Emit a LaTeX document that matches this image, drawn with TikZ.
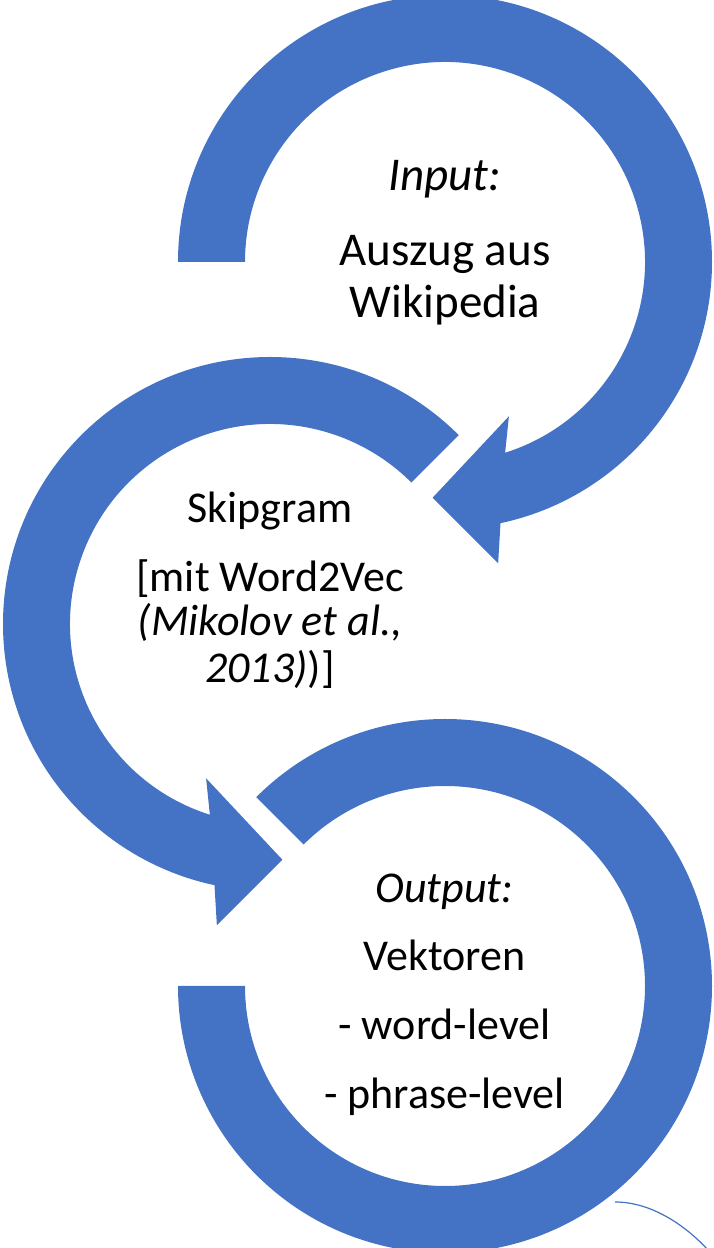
\documentclass[tikz,border=0pt]{standalone}
\usepackage{fontspec}
\setmainfont{Carlito}
\usepackage{xcolor}
\definecolor{smartblue}{HTML}{4472C4}

\begin{document}
\begin{tikzpicture}[
            x=1pt, y=1pt,
            band/.style={fill=smartblue, draw=none},
            big/.style={inner sep=0pt, anchor=base, font=\fontsize{47}{56}\selectfont},
            txt/.style={inner sep=0pt, anchor=base, font=\fontsize{44}{53}\selectfont}
        ]
            \useasboundingbox (0,0) rectangle (713,1248);
            \clip (0,0) rectangle (713,1248);

            \coordinate (cin)   at (445,986);
            \coordinate (cskip) at (270,624);
            \coordinate (cout)  at (445,262);

            % --- INPUT ---
            \fill[band, shift={(cin)}] (180:267) arc[start angle=180, end angle=-78, radius=267]
                -- (-80:306) -- (-93:236) -- (-67.5:167) -- (-72.5:200)
                arc[start angle=-72.5, end angle=180, radius=200] -- cycle;
            \node[big] (in1) at (445,1057.4) {\textit{Input:}};
            \node[big] (in2) at (445,982.5) {Auszug aus};
            \node[big] (in3) at (445,930.4) {Wikipedia};

            % --- SKIPGRAM ---
            \fill[band, shift={(cskip)}] (45:267) arc[start angle=45, end angle=258, radius=267]
                -- (260:306) -- (273:236) -- (247.5:167) -- (252.5:200)
                arc[start angle=252.5, end angle=45, radius=200] -- cycle;
            \node[txt] (sk1) at (270,725.3) {Skipgram};
            \node[txt] (sk2) at (270,656.3) {[mit Word2Vec};
            \node[txt] (sk3) at (270,612) {\textit{(Mikolov et al.,}};
            \node[txt] (sk4) at (270,565) {\textit{2013)})]};

            % --- OUTPUT ---
            \fill[band, shift={(cout)}] (135:267) arc[start angle=135, end angle=-180, radius=267]
                -- (180:200) arc[start angle=-180, end angle=135, radius=200] -- cycle;
            \node[txt] (out1) at (444.5,345.3) {\textit{Output:}};
            \node[txt] (out2) at (444.5,277.3) {Vektoren};
            \node[txt] (out3) at (444.5,208) {- word-level};
            \node[txt] (out4) at (444.5,139) {- phrase-level};

            % thin arc bottom right
            \draw[smartblue, line width=1.2pt] (615,46) .. controls (652,46) and (686,22) .. (708,-2);

        \end{tikzpicture}
\end{document}
